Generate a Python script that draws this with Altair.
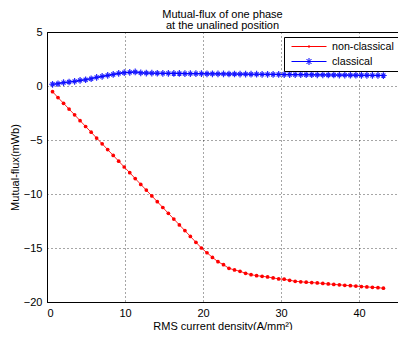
import altair as alt
import pandas as pd

J = [0.71, 1.41, 2.12, 2.83, 3.54, 4.24, 4.95, 5.66, 6.36, 7.07,
     7.78, 8.49, 9.19, 9.90, 10.61, 11.31, 12.02, 12.73, 13.44, 14.14,
     14.85, 15.56, 16.26, 16.97, 17.68, 18.38, 19.09, 19.80, 20.51, 21.21,
     21.92, 22.63, 23.33, 24.04, 24.75, 25.46, 26.16, 26.87, 27.58, 28.28,
     28.99, 29.70, 30.41, 31.11, 31.82, 32.53, 33.23, 33.94, 34.65, 35.36,
     36.06, 36.77, 37.48, 38.18, 38.89, 39.60, 40.31, 41.01, 41.72, 42.43,
     43.13]

non_classical = [-0.53, -1.07, -1.60, -2.14, -2.67, -3.21, -3.75, -4.28, -4.82, -5.35,
                 -5.89, -6.43, -6.96, -7.50, -8.03, -8.57, -9.11, -9.64, -10.18, -10.71,
                 -11.25, -11.79, -12.32, -12.86, -13.39, -13.93, -14.47, -15.00, -15.44, -15.87,
                 -16.27, -16.55, -16.88, -17.03, -17.16, -17.34, -17.47, -17.56, -17.62, -17.68,
                 -17.77, -17.86, -17.89, -17.99, -18.08, -18.13, -18.17, -18.20, -18.24, -18.28,
                 -18.33, -18.37, -18.41, -18.45, -18.49, -18.53, -18.57, -18.60, -18.64, -18.67,
                 -18.72]

classical = [0.16, 0.21, 0.31, 0.37, 0.43, 0.52, 0.58, 0.67, 0.80, 0.89,
             0.98, 1.07, 1.17, 1.23, 1.26, 1.30, 1.22, 1.20, 1.19, 1.18,
             1.17, 1.17, 1.16, 1.16, 1.15, 1.15, 1.14, 1.14, 1.13, 1.13,
             1.12, 1.12, 1.11, 1.11, 1.10, 1.10, 1.09, 1.09, 1.08, 1.08,
             1.07, 1.07, 1.06, 1.06, 1.05, 1.05, 1.04, 1.04, 1.03, 1.03,
             1.02, 1.02, 1.01, 1.01, 1.00, 1.00, 0.99, 0.99, 0.98, 0.98,
             0.97]

series_names = ["non-classical", "classical"]
series_colors = ["#ff0000", "#0000ff"]

rows = []
for j, a, b in zip(J, non_classical, classical):
    rows.append({"J": j, "flux": a, "series": "non-classical"})
    rows.append({"J": j, "flux": b, "series": "classical"})
df = pd.DataFrame(rows)

FONT = "Liberation Sans"
color_scale = alt.Scale(domain=series_names, range=series_colors)

x_enc = alt.X("J:Q", scale=alt.Scale(domain=[0, 45], nice=False),
              axis=alt.Axis(values=list(range(0, 46, 5)), title="RMS current density(A/mm²)"))
y_enc = alt.Y("flux:Q", scale=alt.Scale(domain=[-20, 5], nice=False),
              axis=alt.Axis(values=list(range(-20, 6, 5)), title="Mutual-flux(mWb)"))

# legend symbols: a 35px line with a marker in its middle (size 100 -> 5px per unit)
leg_dot = "M-0.4,0L6.6,0M3.1,-0.3L3.1,0.3M2.8,0L3.4,0"
leg_star = ("M-0.4,0L6.6,0M3.1,-0.7L3.1,0.7M2.4,0L3.8,0"
            "M2.6,-0.5L3.6,0.5M2.6,0.5L3.6,-0.5")
shape_scale = alt.Scale(domain=series_names, range=[leg_dot, leg_star])

legend = alt.Legend(title=None, orient="none", legendX=237, legendY=5,
                    symbolSize=100, symbolStrokeWidth=1, labelFontSize=10.7,
                    labelFont=FONT, labelColor="#000",
                    strokeColor="#000", fillColor="#fff",
                    padding=4, rowPadding=3, labelOffset=33, labelLimit=200)

# invisible layer that only provides the legend (line + marker symbols)
legend_layer = alt.Chart(df).mark_point(
    filled=False, size=100, strokeWidth=1, opacity=0
).encode(
    x=x_enc, y=y_enc,
    color=alt.Color("series:N", scale=color_scale, sort=series_names, legend=legend),
    shape=alt.Shape("series:N", scale=shape_scale, sort=series_names, legend=legend),
)

lines = alt.Chart(df).mark_line(strokeWidth=1, opacity=0.85).encode(
    x="J:Q", y="flux:Q",
    color=alt.Color("series:N", scale=color_scale, legend=None),
)

dots = alt.Chart(df[df.series == "non-classical"]).mark_point(
    shape="circle", filled=True, size=14, opacity=1
).encode(x="J:Q", y="flux:Q", color=alt.Color("series:N", scale=color_scale, legend=None))

stars = alt.Chart(df[df.series == "classical"]).mark_point(
    shape="M-1,0L1,0M0,-1L0,1M-0.6,-0.6L0.6,0.6M-0.6,0.6L0.6,-0.6",
    filled=False, size=45, strokeWidth=1.2, opacity=0.85
).encode(x="J:Q", y="flux:Q", color=alt.Color("series:N", scale=color_scale, legend=None))

chart = alt.layer(legend_layer, lines, dots, stars).properties(
    width=351, height=270,
    title=alt.TitleParams(["Mutual-flux of one phase", "at the unalined position"],
                          fontSize=11, fontWeight="normal", font=FONT, color="#000",
                          anchor="middle", offset=0, dy=4.5, lineHeight=11),
    autosize=alt.AutoSizeParams(type="none"),
    padding={"left": 39, "top": 24, "right": 0, "bottom": 28},
).configure_view(stroke="#000", strokeWidth=1).configure_axis(
    labelFont=FONT, titleFont=FONT, labelFontSize=11, titleFontSize=11,
    labelColor="#000", titleColor="#000", titleFontWeight="normal",
    domainColor="#000", ticks=False, tickSize=0,
    gridColor="#000", gridDash=[1, 3], gridOpacity=0.7, labelPadding=5,
).configure_axisX(titlePadding=2).configure_axisY(titlePadding=3)

chart.save("out.html", embed_options={"renderer": "svg", "actions": False})
